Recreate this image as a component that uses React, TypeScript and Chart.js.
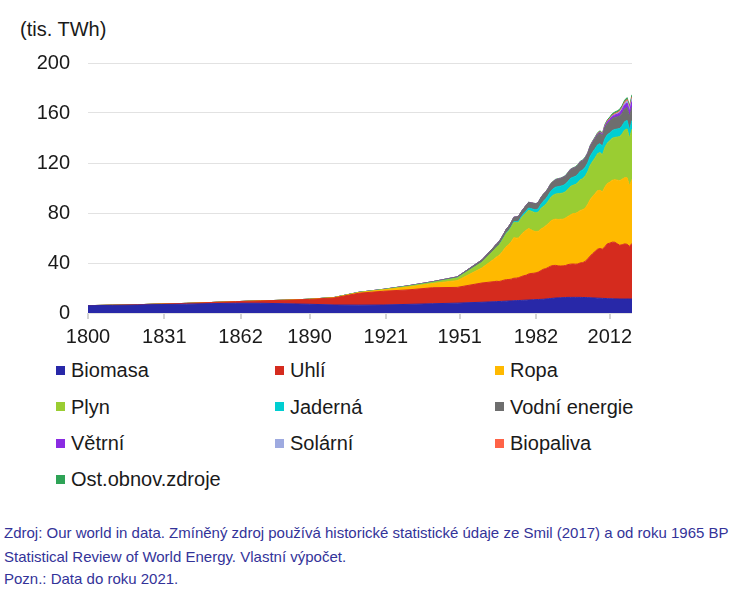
import React, { useEffect, useRef } from "react";
import { Chart, registerables } from "chart.js";
Chart.register(...registerables);

// Years: decadal 1800-1960, then annual 1965-2021
const years = [
  1800, 1810, 1820, 1830, 1840, 1850, 1860, 1870, 1880, 1890, 1900, 1910, 1920, 1930, 1940, 1950, 1960,
  1965, 1966, 1967, 1968, 1969, 1970, 1971, 1972, 1973, 1974, 1975,
  1976, 1977, 1978, 1979, 1980, 1981, 1982, 1983, 1984, 1985,
  1986, 1987, 1988, 1989, 1990, 1991, 1992, 1993, 1994, 1995,
  1996, 1997, 1998, 1999, 2000, 2001, 2002, 2003, 2004, 2005,
  2006, 2007, 2008, 2009, 2010, 2011, 2012, 2013, 2014, 2015,
  2016, 2017, 2018, 2019, 2020, 2021,
];

const tickYears = [1800, 1831, 1862, 1890, 1921, 1951, 1982, 2012];
const yTicks = [0, 40, 80, 120, 160, 200];

// values in thousand TWh
const biomasa = [
  5.8, 6.1, 6.4, 6.8, 7.1, 7.5, 7.8, 7.8, 7.4, 7.0, 6.4, 6.3, 6.4, 6.9, 7.4, 7.9, 8.6,
  9.0, 9.1, 9.2, 9.3, 9.4, 9.5, 9.6, 9.7, 9.8, 9.9, 10.0,
  10.1, 10.2, 10.3, 10.4, 10.5, 10.6, 10.7, 10.8, 10.9, 11.0,
  11.2, 11.4, 11.6, 11.8, 12.0, 12.1, 12.2, 12.3, 12.4, 12.5,
  12.5, 12.5, 12.5, 12.5, 12.5, 12.4, 12.4, 12.3, 12.2, 12.1,
  12.0, 11.9, 11.8, 11.7, 11.6, 11.5, 11.4, 11.4, 11.3, 11.3,
  11.2, 11.2, 11.2, 11.2, 11.2, 11.2,
];
const uhli = [
  0.1, 0.15, 0.25, 0.4, 0.6, 0.9, 1.3, 1.9, 2.8, 3.9, 5.7, 9.5, 11.0, 11.6, 12.8, 12.6, 15.4,
  16.1, 16.3, 16.0, 16.4, 16.9, 17.2, 17.2, 17.4, 18.0, 18.0, 18.3,
  19.0, 19.6, 19.9, 20.8, 21.1, 21.2, 21.4, 22.0, 23.0, 24.0,
  24.3, 25.1, 25.9, 26.2, 26.1, 25.6, 25.4, 25.4, 25.6, 26.2,
  26.6, 26.7, 26.6, 26.7, 27.6, 27.9, 28.9, 31.0, 33.3, 35.4,
  37.2, 39.1, 39.8, 39.3, 41.5, 43.9, 44.5, 45.3, 45.3, 44.1,
  43.0, 43.4, 44.1, 43.8, 42.1, 44.5,
];
const ropa = [
  0, 0, 0, 0, 0, 0, 0, 0.01, 0.05, 0.1, 0.2, 0.5, 1.1, 2.3, 3.4, 5.4, 12.0,
  18.1, 19.5, 20.8, 22.6, 24.5, 26.6, 28.0, 30.1, 32.5, 32.0, 31.8,
  33.7, 34.9, 36.0, 36.4, 35.0, 33.8, 32.9, 32.7, 33.3, 33.3,
  34.3, 35.0, 36.1, 36.7, 37.0, 37.1, 37.4, 37.3, 38.0, 38.6,
  39.4, 40.3, 40.6, 41.4, 42.0, 42.3, 42.7, 43.5, 45.2, 45.8,
  46.3, 46.9, 46.6, 45.9, 47.7, 48.2, 48.8, 49.5, 50.0, 50.9,
  51.6, 52.4, 52.9, 53.3, 48.3, 51.2,
];
const plyn = [
  0, 0, 0, 0, 0, 0, 0, 0, 0, 0.02, 0.06, 0.15, 0.23, 0.55, 0.85, 2.1, 4.5,
  7.2, 7.7, 8.3, 8.9, 9.7, 10.5, 11.1, 11.6, 12.2, 12.4, 12.5,
  13.1, 13.5, 14.0, 14.7, 14.9, 15.1, 15.1, 15.3, 16.4, 17.0,
  17.2, 18.0, 18.8, 19.5, 20.1, 20.6, 20.7, 21.0, 21.1, 21.7,
  22.7, 22.7, 23.1, 23.7, 24.5, 24.9, 25.6, 26.3, 27.3, 28.0,
  28.6, 29.5, 30.3, 29.6, 31.7, 32.4, 33.2, 33.6, 33.9, 34.5,
  35.3, 36.3, 38.2, 39.0, 38.3, 40.2,
];
const jaderna = [
  0, 0, 0, 0, 0, 0, 0, 0, 0, 0, 0, 0, 0, 0, 0, 0, 0,
  0.07, 0.09, 0.11, 0.14, 0.17, 0.22, 0.3, 0.4, 0.55, 0.7, 1.0,
  1.1, 1.35, 1.6, 1.7, 1.95, 2.25, 2.4, 2.75, 3.4, 4.1,
  4.4, 4.7, 5.1, 5.2, 5.5, 5.7, 5.8, 6.0, 6.1, 6.3,
  6.5, 6.4, 6.5, 6.7, 6.9, 7.0, 7.1, 7.0, 7.3, 7.3,
  7.3, 7.1, 7.0, 6.9, 7.0, 6.7, 6.2, 6.2, 6.3, 6.4,
  6.5, 6.5, 6.6, 6.8, 6.6, 6.9,
];
const vodni = [
  0, 0, 0, 0, 0, 0, 0, 0, 0, 0, 0.05, 0.1, 0.2, 0.4, 0.6, 0.9, 1.9,
  2.5, 2.6, 2.7, 2.8, 3.0, 3.2, 3.3, 3.4, 3.5, 3.8, 3.9,
  3.9, 4.0, 4.3, 4.5, 4.6, 4.7, 4.8, 5.0, 5.2, 5.4,
  5.5, 5.5, 5.7, 5.6, 5.8, 5.9, 6.0, 6.3, 6.3, 6.7,
  6.8, 6.9, 7.0, 7.0, 7.2, 7.1, 7.2, 7.2, 7.6, 7.8,
  8.0, 8.1, 8.4, 8.4, 8.9, 9.0, 9.4, 9.6, 9.7, 9.7,
  10.0, 10.1, 10.3, 10.4, 10.7, 10.6,
];
const vetrni = [
  0, 0, 0, 0, 0, 0, 0, 0, 0, 0, 0, 0, 0, 0, 0, 0, 0,
  0, 0, 0, 0, 0, 0, 0, 0, 0, 0, 0,
  0, 0, 0, 0, 0, 0, 0, 0, 0, 0,
  0, 0, 0, 0, 0.01, 0.01, 0.01, 0.02, 0.02, 0.02,
  0.03, 0.03, 0.05, 0.06, 0.08, 0.1, 0.14, 0.17, 0.23, 0.28,
  0.35, 0.45, 0.58, 0.74, 0.9, 1.14, 1.37, 1.63, 1.79, 2.08,
  2.4, 2.78, 3.1, 3.5, 3.9, 4.6,
];
const solarni = [
  0, 0, 0, 0, 0, 0, 0, 0, 0, 0, 0, 0, 0, 0, 0, 0, 0,
  0, 0, 0, 0, 0, 0, 0, 0, 0, 0, 0,
  0, 0, 0, 0, 0, 0, 0, 0, 0, 0,
  0, 0, 0, 0, 0, 0, 0, 0, 0, 0,
  0, 0, 0, 0, 0, 0, 0, 0, 0, 0.01,
  0.01, 0.02, 0.03, 0.05, 0.09, 0.17, 0.26, 0.36, 0.49, 0.65,
  0.84, 1.11, 1.45, 1.77, 2.11, 2.6,
];
const biopaliva = [
  0, 0, 0, 0, 0, 0, 0, 0, 0, 0, 0, 0, 0, 0, 0, 0, 0,
  0, 0, 0, 0, 0, 0, 0, 0, 0, 0, 0,
  0, 0, 0, 0, 0.05, 0.05, 0.06, 0.06, 0.07, 0.07,
  0.07, 0.08, 0.08, 0.08, 0.08, 0.08, 0.08, 0.08, 0.09, 0.09,
  0.09, 0.09, 0.09, 0.1, 0.1, 0.11, 0.13, 0.16, 0.18, 0.22,
  0.29, 0.37, 0.47, 0.53, 0.6, 0.61, 0.62, 0.68, 0.74, 0.77,
  0.8, 0.85, 0.95, 1.03, 0.97, 1.08,
];
const ostatni = [
  0, 0, 0, 0, 0, 0, 0, 0, 0, 0, 0, 0, 0, 0, 0, 0, 0,
  0.04, 0.04, 0.05, 0.05, 0.06, 0.06, 0.07, 0.07, 0.08, 0.08, 0.09,
  0.1, 0.11, 0.12, 0.13, 0.15, 0.17, 0.19, 0.21, 0.23, 0.25,
  0.28, 0.31, 0.34, 0.37, 0.4, 0.41, 0.42, 0.43, 0.44, 0.45,
  0.47, 0.49, 0.51, 0.53, 0.55, 0.57, 0.59, 0.61, 0.63, 0.65,
  0.69, 0.74, 0.79, 0.84, 0.9, 0.98, 1.06, 1.14, 1.22, 1.3,
  1.35, 1.4, 1.45, 1.5, 1.6, 1.7,
];

const seriesNames = [
  "Biomasa", "Uhlí", "Ropa", "Plyn", "Jaderná", "Vodní energie",
  "Větrní", "Solární", "Biopaliva", "Ost.obnov.zdroje",
];
const seriesColors = [
  "#2828a8", "#d52b1e", "#ffb900", "#9acd32", "#00ced1", "#6e6e6e",
  "#8a2be2", "#9eaae0", "#ff6347", "#2ea356",
];

const sourceLines = [
  "Zdroj: Our world in data. Zmíněný zdroj používá historické statistické údaje ze Smil (2017) a od roku 1965 BP",
  "Statistical Review of World Energy. Vlastní výpočet.",
  "Pozn.: Data do roku 2021.",
];

const FONT = "Arial, 'Liberation Sans', sans-serif";

export default function App() {
  const ref = useRef<HTMLCanvasElement>(null);

  useEffect(() => {
    const series = [biomasa, uhli, ropa, plyn, jaderna, vodni, vetrni, solarni, biopaliva, ostatni];
    const chart = new Chart(ref.current as HTMLCanvasElement, {
      type: "line",
      data: {
        datasets: series.map((s, i) => ({
          label: seriesNames[i],
          data: s.map((v, j) => ({ x: years[j], y: v })),
          backgroundColor: seriesColors[i],
          borderColor: seriesColors[i],
          borderWidth: 1,
          pointRadius: 0,
          pointHoverRadius: 0,
          tension: 0,
          fill: i === 0 ? "origin" : "-1",
        })),
      },
      options: {
        animation: false,
        responsive: false,
        maintainAspectRatio: false,
        layout: { padding: { top: 63, right: 101, left: 0, bottom: 0 } },
        plugins: {
          legend: { display: false },
          tooltip: { enabled: false },
          title: { display: false },
        },
        scales: {
          x: {
            type: "linear",
            min: 1800,
            max: 2021,
            afterBuildTicks: (s: any) => {
              s.ticks = tickYears.map((v) => ({ value: v }));
            },
            afterFit: (s: any) => {
              s.height = 32;
            },
            grid: { drawOnChartArea: false, tickLength: 6, color: "#d4d4d4", lineWidth: 2 },
            border: { display: false },
            ticks: {
              autoSkip: false,
              maxRotation: 0,
              padding: 6,
              color: "#1a1a1a",
              font: { family: FONT, size: 20 },
              callback: (v: any) => String(v),
            },
          },
          y: {
            stacked: true,
            min: 0,
            max: 200,
            afterBuildTicks: (s: any) => {
              s.ticks = yTicks.map((v) => ({ value: v }));
            },
            afterFit: (s: any) => {
              s.width = 88;
            },
            grid: { drawTicks: false, color: "#e2e2e2", lineWidth: 1 },
            border: { display: false },
            ticks: {
              padding: 18,
              color: "#1a1a1a",
              font: { family: FONT, size: 20 },
              callback: (v: any) => String(v),
            },
          },
        },
      },
    });
    return () => chart.destroy();
  }, []);

  const colX = [56, 275, 495];
  const rowY = [370, 406.5, 443, 479];
  const srcY = [533, 557, 579];

  return (
    <div
      style={{
        position: "absolute",
        left: 0,
        top: 0,
        width: 733,
        height: 602,
        background: "#fff",
        fontFamily: FONT,
        overflow: "hidden",
      }}
    >
      <div
        style={{
          position: "absolute",
          left: 20,
          top: 17,
          fontSize: 20,
          lineHeight: "24px",
          color: "#1a1a1a",
          whiteSpace: "nowrap",
        }}
      >
        (tis. TWh)
      </div>
      <canvas
        ref={ref}
        width={733}
        height={345}
        style={{ position: "absolute", left: 0, top: 0, width: 733, height: 345 }}
      />
      {seriesNames.map((name, i) => {
        const cx = colX[i % 3];
        const cy = rowY[Math.floor(i / 3)];
        return (
          <div key={name}>
            <div
              style={{
                position: "absolute",
                left: cx,
                top: cy - 4.5,
                width: 9,
                height: 9,
                background: seriesColors[i],
              }}
            />
            <div
              style={{
                position: "absolute",
                left: cx + 15,
                top: cy - 12,
                fontSize: 20,
                lineHeight: "24px",
                color: "#1a1a1a",
                whiteSpace: "nowrap",
              }}
            >
              {name}
            </div>
          </div>
        );
      })}
      {sourceLines.map((line, i) => (
        <div
          key={i}
          style={{
            position: "absolute",
            left: 4,
            top: srcY[i] - 10,
            fontSize: 15,
            lineHeight: "20px",
            color: "#333399",
            whiteSpace: "nowrap",
          }}
        >
          {line}
        </div>
      ))}
    </div>
  );
}
